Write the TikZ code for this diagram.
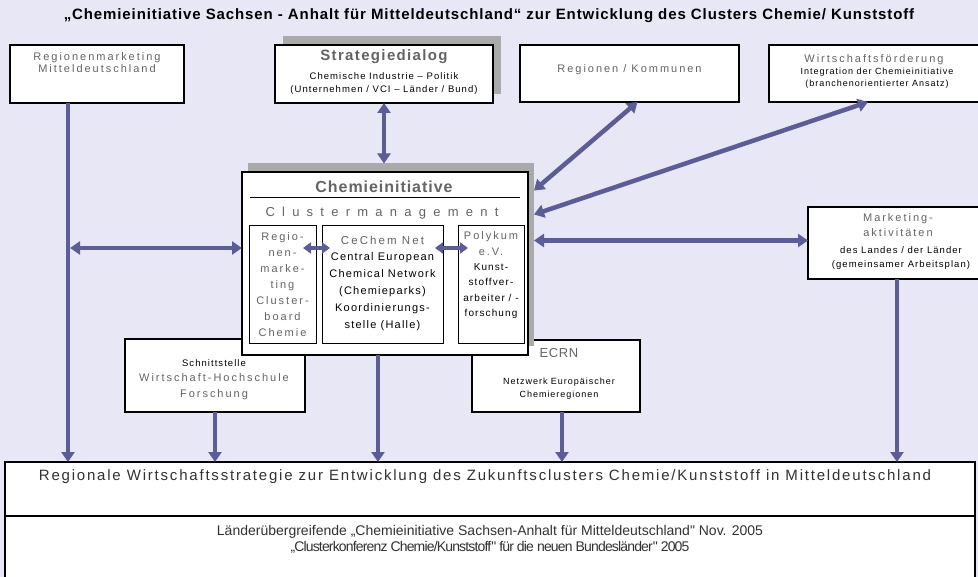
\documentclass[tikz,border=0pt]{standalone}
\usepackage{fontspec}
\setmainfont{Liberation Sans}
\newfontfamily\gsp[LetterSpace=18]{Liberation Sans}
\newfontfamily\bsp[LetterSpace=11]{Liberation Sans}
\usetikzlibrary{arrows.meta,calc}
\definecolor{bgc}{RGB}{231,231,245}
\definecolor{arrc}{RGB}{92,92,150}
\definecolor{gtxt}{RGB}{100,100,100}
\definecolor{dtxt}{RGB}{50,50,50}
\definecolor{shd}{RGB}{170,170,170}
\begin{document}
\begin{tikzpicture}[x=1pt,y=-1pt,
 box/.style={draw=black,line width=1.1pt,fill=white,inner sep=0pt,outer sep=0pt},
 subbox/.style={draw=black,line width=0.9pt,fill=white,inner sep=0pt,outer sep=0pt},
 shadowbox/.style={fill=shd,draw=none,inner sep=0pt,outer sep=0pt},
 arr/.style={draw=arrc,line width=4.5pt,-{Triangle[length=10pt,width=13pt]}},
 darr/.style={draw=arrc,line width=4.5pt,{Triangle[length=10pt,width=13pt]}-{Triangle[length=10pt,width=13pt]}},
 sarr/.style={draw=arrc,line width=4pt,{Triangle[length=8pt,width=11pt]}-{Triangle[length=8pt,width=11pt]}},
 gt/.style={text=gtxt,font=\gsp\fontsize{11}{12}\selectfont,align=center,inner sep=0pt},
 bt/.style={text=black,font=\bsp\fontsize{9.5}{13}\selectfont,align=center,inner sep=0pt},
]
\useasboundingbox (0,0) rectangle (978,577);
\fill[bgc] (0,0) rectangle (978,577);

% title
\node[font=\bfseries\fontsize{15}{17}\selectfont\addfontfeature{LetterSpace=6},inner sep=0pt] (title) at (489,16)
 {„Chemieinitiative Sachsen - Anhalt für Mitteldeutschland“ zur Entwicklung des Clusters Chemie/ Kunststoff};

% bottom boxes
\node[box,minimum width=970pt,minimum height=54pt] (bt) at (490,489) {};
\node[box,minimum width=970pt,minimum height=64pt] (bb) at (490,548) {};
\node[text=dtxt,font=\fontsize{15}{17}\selectfont\addfontfeature{LetterSpace=12},inner sep=0pt] (btT) at (485,477)
 {Regionale Wirtschaftsstrategie zur Entwicklung des Zukunftsclusters Chemie/Kunststoff in Mitteldeutschland};
\node[text=dtxt,font=\fontsize{14}{15}\selectfont,inner sep=0pt] (bbT1) at (490,532)
 {Länderübergreifende „Chemieinitiative Sachsen-Anhalt für Mitteldeutschland\textquotedbl{} Nov. 2005};
\node[text=dtxt,font=\fontsize{14}{15}\selectfont\addfontfeature{LetterSpace=-6},inner sep=0pt] (bbT2) at (490,547)
 {„Clusterkonferenz Chemie/Kunststoff\textquotedbl{} für die neuen Bundesländer\textquotedbl{} 2005};

% top row
\node[box,minimum width=174pt,minimum height=58pt] (rm) at (97,74) {};
\node[gt] (rmT) at (97,63) {Regionenmarketing\\Mitteldeutschland};

\node[shadowbox,minimum width=218pt,minimum height=58pt] (sdS) at (392,65) {};
\node[box,minimum width=218pt,minimum height=58pt] (sd) at (384,74) {};
\node[text=gtxt,font=\bfseries\fontsize{15}{17}\selectfont\addfontfeature{LetterSpace=9},inner sep=0pt] (sdT) at (384,57) {Strategiedialog};
\node[bt] (sdB) at (384,83.5) {Chemische Industrie – Politik\\(Unternehmen / VCI – Länder / Bund)};

\node[box,minimum width=219pt,minimum height=57pt] (rk) at (629.5,73.5) {};
\node[gt] (rkT) at (629.5,70) {Regionen / Kommunen};

\node[box,minimum width=213pt,minimum height=57pt] (wf) at (875.5,73.5) {};
\node[gt] (wfT) at (874,60) {Wirtschaftsförderung};
\node[bt,font=\bsp\fontsize{9}{12}\selectfont] (wfB) at (877,78) {Integration der Chemieinitiative\\(branchenorientierter Ansatz)};

% lower middle boxes
\node[box,minimum width=180pt,minimum height=73pt] (sn) at (215,375.5) {};
\node[bt] (snT) at (214,363) {Schnittstelle};
\node[gt,font=\gsp\fontsize{11}{16.5}\selectfont] (snB) at (214,386.5) {Wirtschaft-Hochschule\\Forschung};

\node[box,minimum width=168pt,minimum height=72pt] (ec) at (556,376) {};
\node[gt,font=\gsp\fontsize{13}{15}\selectfont\addfontfeature{LetterSpace=5}] (ecT) at (559,353) {ECRN};
\node[bt,font=\bsp\fontsize{9}{13}\selectfont] (ecB) at (559,388.5) {Netzwerk Europäischer\\Chemieregionen};

% central box
\node[shadowbox,minimum width=286pt,minimum height=183pt] (ciS) at (391,255) {};
\node[box,minimum width=286pt,minimum height=183pt] (ci) at (385,263.5) {};
\node[text=gtxt,font=\bfseries\fontsize{16}{18}\selectfont\addfontfeature{LetterSpace=6},inner sep=0pt] (ciT) at (384,187) {Chemieinitiative};
\draw[line width=1pt] ([xshift=8pt]ci.west |- 0,198) -- ([xshift=-8pt]ci.east |- 0,198);
\node[text=gtxt,font=\fontsize{13}{15}\selectfont,inner sep=0pt] (cmT) at (382,213)
 {\makebox[233pt][s]{C\hfil l\hfil u\hfil s\hfil t\hfil e\hfil r\hfil m\hfil a\hfil n\hfil a\hfil g\hfil e\hfil m\hfil e\hfil n\hfil t}};

\node[subbox,minimum width=67pt,minimum height=118pt] (rg) at (282.5,284) {};
\node[gt,font=\gsp\fontsize{11}{16}\selectfont] (rgT) at (282.5,285) {Regio-\\nen-\\marke-\\ting\\Cluster-\\board\\Chemie};

\node[subbox,minimum width=121pt,minimum height=118pt] (cc) at (382.5,284) {};
\node[gt,font=\gsp\fontsize{11.5}{13}\selectfont] (ccT) at (382.5,240) {CeChem Net};
\node[bt,font=\bsp\fontsize{11}{17}\selectfont] (ccB) at (382.5,292) {Central European\\Chemical Network\\(Chemieparks)\\Koordinierungs-\\stelle (Halle)};

\node[subbox,minimum width=66pt,minimum height=118pt] (pk) at (491,284) {};
\node[gt,font=\gsp\fontsize{11}{16}\selectfont] (pkT) at (491,244) {Polykum\\e.V.};
\node[bt,font=\bsp\fontsize{10}{15.3}\selectfont] (pkB) at (491,291) {Kunst-\\stoffver-\\arbeiter / -\\forschung};

% marketing box
\node[box,minimum width=184pt,minimum height=72pt] (mk) at (900,243) {};
\node[gt,font=\gsp\fontsize{11}{15}\selectfont] (mkT) at (898,225.5) {Marketing-\\aktivitäten};
\node[bt,font=\bsp\fontsize{9.5}{14}\selectfont] (mkB) at (901,258) {des Landes / der Länder\\(gemeinsamer Arbeitsplan)};

% connectors
\coordinate (rmD) at ([xshift=-29pt]rm.south);
\draw[arr] (rmD) -- (rmD |- bt.north);
\coordinate (ciL) at ([yshift=15.5pt]ci.west);
\draw[darr] ([xshift=2pt]rmD |- ciL) -- (ciL);
\draw[darr] (sd.south) -- (sd.south |- ciS.north);
\draw[darr] ([xshift=8pt]rk.south) -- ([yshift=-27pt]ciS.north east);
\draw[darr] ([xshift=-7.5pt]wf.south) -- ([yshift=-51pt]ciS.north east);
\coordinate (ciR) at ([yshift=-77pt]ciS.north east);
\draw[darr] (ciR) -- (ciR -| mk.west);
\draw[arr] ([xshift=-3pt]mk.south) -- ([xshift=-3pt]mk.south |- bt.north);
\draw[arr] (sn.south) -- (sn.south |- bt.north);
\draw[arr] ([xshift=-7pt]ci.south) -- ([xshift=-7pt]ci.south |- bt.north);
\draw[arr] ([xshift=6pt]ec.south) -- ([xshift=6pt]ec.south |- bt.north);
\draw[sarr] ([xshift=-13pt]rg.east |- ciL) -- ([xshift=8pt]cc.west |- ciL);
\draw[sarr] ([xshift=-8pt]cc.east |- ciL) -- ([xshift=10pt]pk.west |- ciL);
\end{tikzpicture}
\end{document}
